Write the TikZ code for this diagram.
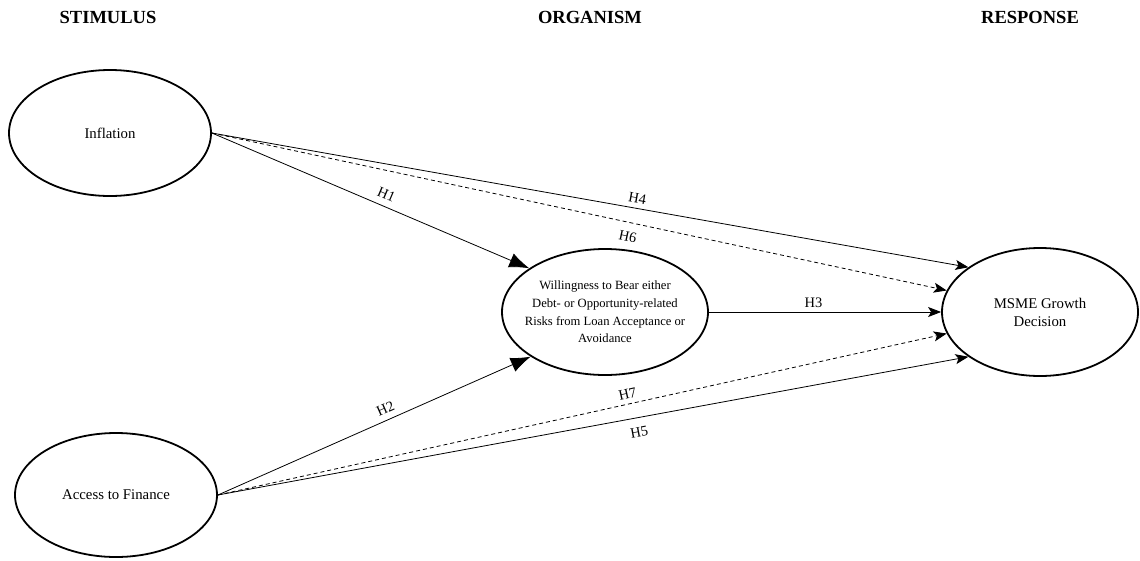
\documentclass[tikz,border=0pt]{standalone}
\usepackage{fontspec}
\setmainfont{Liberation Serif}
\usetikzlibrary{shapes.geometric,arrows.meta}
\begin{document}
\begin{tikzpicture}[x=1pt,y=-1pt,
  construct/.style={draw, ellipse, line width=1.8pt, inner sep=0pt, align=center,
    font=\fontsize{14.8}{18}\selectfont},
  header/.style={font=\fontsize{18.5}{21}\selectfont\bfseries},
  lbl/.style={font=\fontsize{14.5}{17}\selectfont, sloped, inner sep=1pt},
  big/.style={line width=0.8pt, -{Latex[length=20pt,width=15pt]}},
  small/.style={line width=0.8pt, -{Stealth[length=13pt,width=10pt,inset=3pt]}},
  dashline/.style={dash pattern=on 4pt off 3pt}
]
\useasboundingbox (0,0) rectangle (1140,560);
\node[header] (hs) at (108,17) {STIMULUS};
\node[header] (ho) at (590,17) {ORGANISM};
\node[header] (hr) at (1030,17) {RESPONSE};

\node[construct, minimum width=202pt, minimum height=126pt] (inf) at (110,133) {Inflation};
\node[construct, minimum width=202pt, minimum height=124pt] (acc) at (116,495) {Access to Finance};
\node[construct, minimum width=206pt, minimum height=126pt,
  label={[align=center, font=\fontsize{12.6}{17.6}\selectfont]center:{Willingness to Bear either\\Debt- or Opportunity-related\\Risks from Loan Acceptance or\\Avoidance}}] (wil) at (605,312) {};
\node[construct, minimum width=196pt, minimum height=128pt] (msme) at (1040,312) {MSME Growth\\Decision};

\draw[big] (inf.east) -- node[lbl, pos=0.535, above=6pt] {H1} (wil.150);
\draw[small] (inf.east) -- node[lbl, pos=0.56, above=4pt] {H4} (msme.148);
\draw[small, dashline] (inf.east) -- node[lbl, pos=0.57, below=8pt] {H6} (msme.167);
\draw[small] (wil.east) -- node[lbl, pos=0.45, above=3pt] {H3} (msme.west);
\draw[big] (acc.east) -- node[lbl, pos=0.55, above=5pt] {H2} (wil.211);
\draw[small, dashline] (acc.east) -- node[lbl, pos=0.565, above=4pt] {H7} (msme.193);
\draw[small] (acc.east) -- node[lbl, pos=0.558, below=8pt] {H5} (msme.212);
\end{tikzpicture}
\end{document}
